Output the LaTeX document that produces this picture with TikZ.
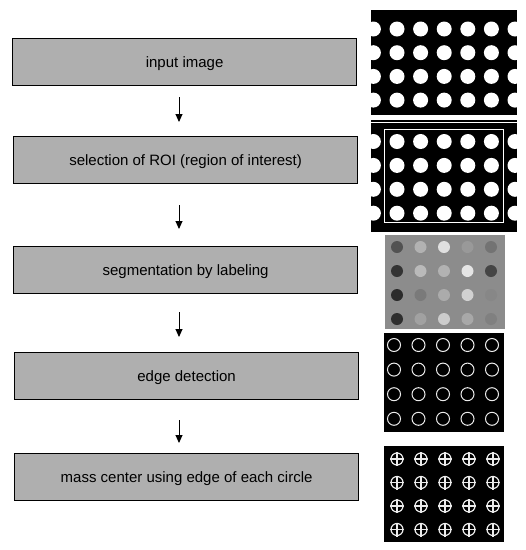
\documentclass[tikz,border=0pt]{standalone}
\usepackage{fontspec}
\setmainfont{Liberation Sans}
\usetikzlibrary{arrows.meta}
\definecolor{boxgray}{gray}{0.685}
\definecolor{segbg}{gray}{0.55}
\definecolor{edgewhite}{gray}{0.92}
\begin{document}
\begin{tikzpicture}[x=1pt,y=-1pt,
  stepbox/.style={draw=black, line width=1.2pt, fill=boxgray, minimum width=344pt,
    minimum height=47pt, inner sep=0pt, anchor=north west, text height=11pt, text depth=0pt,
    font=\fontsize{15}{18}\selectfont},
  flow/.style={-{Triangle[length=8pt,width=7pt]}, line width=0.9pt},
  dot/.style={fill=white}]
\useasboundingbox (0,0) rectangle (526,550);

% ---- process boxes ----
\node[stepbox] (b1) at (12,38)  {input image};
\node[stepbox] (b2) at (13,136) {selection of ROI (region of interest)};
\node[stepbox] (b3) at (13,246) {segmentation by labeling};
\node[stepbox] (b4) at (14,352) {edge detection};
\node[stepbox] (b5) at (14,453) {mass center using edge of each circle};

\coordinate (ax) at (179,0);
\draw[flow, shorten <=11pt, shorten >=14pt] (ax |- b1.south) -- (ax |- b2.north);
\draw[flow, shorten <=21pt, shorten >=17pt] (ax |- b2.south) -- (ax |- b3.north);
\draw[flow, shorten <=18pt, shorten >=15pt] (ax |- b3.south) -- (ax |- b4.north);
\draw[flow, shorten <=20pt, shorten >=10pt] (ax |- b4.south) -- (ax |- b5.north);

% ---- image 1: input ----
\begin{scope}
  \clip (371,10) rectangle (517,115);
  \fill[black] (371,10) rectangle (517,115);
  \foreach \i in {0,...,6}
    \foreach \j in {0,...,3}
      \fill[dot] (373.4+23.6*\i, 29+23.7*\j) circle (7.5pt);
\end{scope}

% ---- image 2: ROI ----
\begin{scope}
  \clip (371,120) rectangle (517,232);
  \fill[black] (371,120) rectangle (517,232);
  \draw[white, line width=0.8pt] (371,122) -- (517,122);
  \foreach \i in {0,...,6}
    \foreach \j in {0,...,3}
      \fill[dot] (373.4+23.6*\i, 141.5+23.9*\j) circle (7.5pt);
  \draw[white, line width=1pt] (384,129) rectangle (503,222);
\end{scope}

% ---- image 3: labeling ----
\fill[segbg] (385,235) rectangle (505,329);
\foreach \i/\j/\g in {
  0/0/0.32, 1/0/0.70, 2/0/0.88, 3/0/0.60, 4/0/0.45,
  0/1/0.20, 1/1/0.73, 2/1/0.70, 3/1/0.90, 4/1/0.27,
  0/2/0.17, 1/2/0.48, 2/2/0.67, 3/2/0.82, 4/2/0.53,
  0/3/0.18, 1/3/0.63, 2/3/0.80, 3/3/0.66, 4/3/0.50} {
  \definecolor{lbl}{gray}{\g}
  \fill[lbl] (397+23.5*\i, 247+24*\j) circle (6pt);
}

% ---- image 4: edges ----
\fill[black] (384,333) rectangle (504,432);
\foreach \i in {0,...,4}
  \foreach \j in {0,...,3}
    \draw[edgewhite, line width=1pt] (394+24.5*\i, 345+24.6*\j) circle (6.5pt);

% ---- image 5: mass centers ----
\fill[black] (384,446) rectangle (504,542);
\foreach \i in {0,...,4}
  \foreach \j in {0,...,3} {
    \draw[edgewhite, line width=1.2pt] (397+24*\i, 459+23.5*\j) circle (6pt);
    \draw[edgewhite, line width=1.2pt] (397+24*\i-7, 459+23.5*\j) -- (397+24*\i+7, 459+23.5*\j);
    \draw[edgewhite, line width=1.2pt] (397+24*\i, 459+23.5*\j-7) -- (397+24*\i, 459+23.5*\j+7);
  }
\end{tikzpicture}
\end{document}
